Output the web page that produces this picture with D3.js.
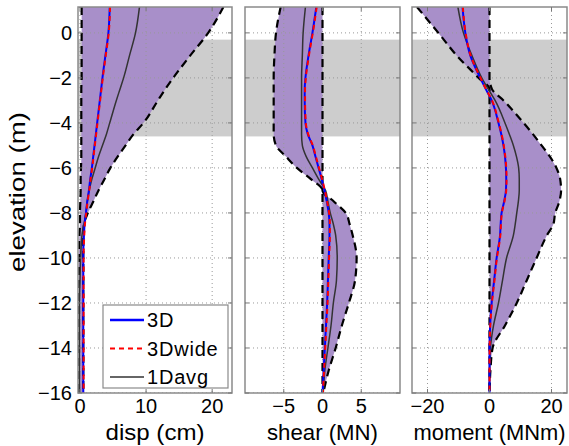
<!DOCTYPE html>
<html>
<head>
  <script src="https://d3js.org/d3.v7.min.js"></script>
  <style>
    body { margin: 0; background: #fff; }
    text { font-family: "Liberation Sans", Arial, sans-serif; fill: #000; }
  </style>
</head>
<body>
  <svg id="chart"></svg>

  <script>
    // Data
    const elev = [1.15, 0, -1, -2, -2.5, -3, -4, -4.5, -5, -5.5, -6, -6.5, -7, -7.5, -8, -8.5, -9, -10, -11, -12, -13, -14, -15, -16];

    const dispMin    = [0.25, 0.25, 0.25, 0.25, 0.2, 0.2, 0.2, 0.2, 0.2, 0.2, 0.15, 0.1, 0.1, 0.05, 0, 0, -0.1, -0.15, -0.15, -0.15, -0.15, -0.15, -0.15, -0.15];
    const dispMax    = [21.7, 19.4, 16.7, 14.1, 12.9, 11.8, 9.6, 8.1, 6.9, 5.7, 4.6, 3.7, 2.8, 2.0, 1.2, 0.6, 0.5, 0.5, 0.5, 0.5, 0.5, 0.5, 0.5, 0.5];
    const disp3D     = [4.5, 4.3, 3.85, 3.4, 3.2, 3.0, 2.6, 2.4, 2.2, 2.0, 1.8, 1.55, 1.35, 1.1, 0.9, 0.7, 0.6, 0.5, 0.5, 0.5, 0.5, 0.5, 0.5, 0.5];
    const disp3Dwide = [4.55, 4.35, 3.9, 3.45, 3.25, 3.05, 2.65, 2.45, 2.25, 2.05, 1.85, 1.6, 1.4, 1.15, 0.95, 0.75, 0.65, 0.55, 0.55, 0.55, 0.55, 0.55, 0.55, 0.55];
    const disp1D     = [9.0, 8.4, 7.5, 6.6, 6.05, 5.5, 4.5, 4.0, 3.4, 2.8, 2.3, 1.8, 1.4, 1.1, 0.9, 0.6, 0.3, 0.1, 0.0, -0.1, -0.1, -0.1, -0.1, -0.1];

    const shearMin    = [-5.4, -6.0, -6.2, -6.3, -6.3, -6.3, -6.3, -6.3, -6.0, -4.7, -3.3, -1.5, 0, 0, 0, 0, 0, 0, 0, 0, 0, 0, 0, 0];
    const shearMax    = [0, 0, 0, 0, 0, 0, 0, 0, 0, 0, 0, 0, 0, 1.5, 3.0, 3.5, 3.9, 4.4, 4.2, 3.4, 2.5, 1.7, 0.8, 0.1];
    const shear3D     = [-0.8, -1.3, -1.8, -2.2, -2.3, -2.3, -2.2, -1.9, -1.3, -0.9, -0.5, -0.1, 0.25, 0.55, 0.8, 0.9, 0.9, 0.8, 0.7, 0.6, 0.45, 0.3, 0.15, 0];
    const shear3Dwide = [-0.75, -1.25, -1.75, -2.15, -2.25, -2.25, -2.15, -1.85, -1.25, -0.85, -0.45, -0.05, 0.3, 0.6, 0.85, 0.95, 0.95, 0.85, 0.75, 0.65, 0.5, 0.35, 0.2, 0.05];
    const shear1D     = [-2.2, -2.5, -2.6, -2.7, -2.7, -2.7, -2.7, -2.7, -2.6, -2.1, -1.3, -0.5, 0.4, 0.7, 1.0, 1.4, 1.7, 1.9, 1.8, 1.4, 1.1, 0.7, 0.3, 0.1];

    const momMin    = [-23.4, -16.5, -10.6, -3.5, 0, 0, 0, 0, 0, 0, 0, 0, 0, 0, 0, 0, 0, 0, 0, 0, 0, 0, 0, 0];
    const momMax    = [0, 0, 0, 0, 0.8, 4.5, 11, 14, 16.8, 19.5, 21.6, 22.8, 23.1, 22.5, 21.2, 20.6, 18.5, 15.2, 12, 8.8, 5, 1, 0.3, 0];
    const mom3D     = [-8.7, -7.8, -6.2, -3.0, -1.2, 0.7, 2.9, 3.8, 4.5, 5.0, 5.3, 5.4, 5.3, 4.7, 3.9, 3.6, 3.4, 2.3, 1.5, 0.7, 0.2, 0, 0, 0];
    const mom3Dwide = [-8.6, -7.7, -6.1, -2.9, -1.1, 0.8, 3.0, 3.9, 4.6, 5.1, 5.4, 5.5, 5.4, 4.8, 4.0, 3.7, 3.5, 2.4, 1.6, 0.8, 0.25, 0.05, 0, 0];
    const mom1D     = [-10.2, -8.4, -5.7, -2.5, -0.4, 1.8, 5.0, 6.4, 7.7, 8.7, 9.4, 9.6, 9.6, 9.3, 8.8, 8.3, 7.7, 5.5, 4.2, 2.9, 1.3, 0.3, 0, 0];

    const yTicks = [0, -2, -4, -6, -8, -10, -12, -14, -16];
    const band = [-4.6, -0.3];   // grey elevation band
    const legendLabels = ["3D", "3Dwide", "1Davg"];

    const W = 569, H = 446;
    const plotTop = 7, plotBottom = 393;

    const svg = d3.select("#chart").attr("width", W).attr("height", H);

    const y = d3.scaleLinear().domain([-16, 1.15]).range([plotBottom, plotTop]);

    const panels = [
      { left: 78,  right: 232, domain: [-0.3, 23], ticks: [0, 10, 20],  label: "disp (cm)",    labelLen: 99,
        min: dispMin, max: dispMax, s3D: disp3D, s3Dw: disp3Dwide, s1D: disp1D },
      { left: 245, right: 400, domain: [-10, 10],  ticks: [-5, 0, 5],   label: "shear (MN)",   labelLen: 111,
        min: shearMin, max: shearMax, s3D: shear3D, s3Dw: shear3Dwide, s1D: shear1D },
      { left: 412, right: 567, domain: [-25, 25],  ticks: [-20, 0, 20], label: "moment (MNm)", labelLen: 152,
        min: momMin, max: momMax, s3D: mom3D, s3Dw: mom3Dwide, s1D: mom1D }
    ];

    const fmt = d => (d < 0 ? "\u2212" + Math.abs(d) : String(d));

    panels.forEach((p, k) => {
      const x = d3.scaleLinear().domain(p.domain).range([p.left, p.right]);
      const g = svg.append("g");

      g.append("clipPath").attr("id", "clip" + k)
        .append("rect").attr("x", p.left).attr("y", plotTop)
        .attr("width", p.right - p.left).attr("height", plotBottom - plotTop);

      const plot = g.append("g").attr("clip-path", `url(#clip${k})`);

      // grey band
      plot.append("rect")
        .attr("x", p.left).attr("width", p.right - p.left)
        .attr("y", y(band[1])).attr("height", y(band[0]) - y(band[1]))
        .attr("fill", "#cdcdcd");

      // purple envelope
      const area = d3.area()
        .y((d, i) => y(elev[i]))
        .x0((d, i) => x(p.min[i]))
        .x1((d, i) => x(p.max[i]))
        .curve(d3.curveMonotoneY);
      plot.append("path").datum(elev).attr("d", area)
        .attr("fill", "#a88fc9");

      // grid
      plot.selectAll(".gx").data(p.ticks).enter().append("line")
        .attr("x1", d => x(d)).attr("x2", d => x(d))
        .attr("y1", plotTop).attr("y2", plotBottom)
        .attr("stroke", "#999").attr("stroke-width", 1).attr("stroke-dasharray", "1,3");
      plot.selectAll(".gy").data(yTicks).enter().append("line")
        .attr("x1", p.left).attr("x2", p.right)
        .attr("y1", d => y(d)).attr("y2", d => y(d))
        .attr("stroke", "#999").attr("stroke-width", 1).attr("stroke-dasharray", "1,3");

      const line = vals => d3.line()
        .x((d, i) => x(vals[i]))
        .y((d, i) => y(elev[i]))
        .curve(d3.curveMonotoneY)(elev);

      // envelope outlines
      [p.min, p.max].forEach(v => {
        plot.append("path").attr("d", line(v))
          .attr("fill", "none").attr("stroke", "#000")
          .attr("stroke-width", 2.2).attr("stroke-dasharray", "8,5");
      });

      // series
      plot.append("path").attr("d", line(p.s1D))
        .attr("fill", "none").attr("stroke", "#333").attr("stroke-width", 1.5);
      plot.append("path").attr("d", line(p.s3D))
        .attr("fill", "none").attr("stroke", "#0000ff").attr("stroke-width", 2);
      plot.append("path").attr("d", line(p.s3Dw))
        .attr("fill", "none").attr("stroke", "#ff0000").attr("stroke-width", 2)
        .attr("stroke-dasharray", "5,4");

      // box
      g.append("rect")
        .attr("x", p.left).attr("y", plotTop)
        .attr("width", p.right - p.left).attr("height", plotBottom - plotTop)
        .attr("fill", "none").attr("stroke", "#8a8a8a").attr("stroke-width", 1.5);

      // tick marks (inside, all four sides)
      p.ticks.forEach(t => {
        g.append("line").attr("x1", x(t)).attr("x2", x(t)).attr("y1", plotBottom).attr("y2", plotBottom - 4)
          .attr("stroke", "#777");
        g.append("line").attr("x1", x(t)).attr("x2", x(t)).attr("y1", plotTop).attr("y2", plotTop + 4)
          .attr("stroke", "#777");
      });
      yTicks.forEach(t => {
        g.append("line").attr("x1", p.left).attr("x2", p.left + 4).attr("y1", y(t)).attr("y2", y(t))
          .attr("stroke", "#777");
        g.append("line").attr("x1", p.right).attr("x2", p.right - 4).attr("y1", y(t)).attr("y2", y(t))
          .attr("stroke", "#777");
      });

      // x tick labels
      g.selectAll(".xl").data(p.ticks).enter().append("text")
        .attr("x", d => x(d)).attr("y", 413)
        .attr("text-anchor", "middle")
        .style("font-size", "20px")
        .text(fmt);

      // x axis label
      g.append("text")
        .attr("x", (p.left + p.right) / 2).attr("y", 440)
        .attr("text-anchor", "middle")
        .attr("textLength", p.labelLen).attr("lengthAdjust", "spacingAndGlyphs")
        .style("font-size", "22px")
        .text(p.label);

      if (k === 0) {
        g.selectAll(".yl").data(yTicks).enter().append("text")
          .attr("x", 72).attr("y", d => y(d) + 7)
          .attr("text-anchor", "end")
          .style("font-size", "20px")
          .text(fmt);

        g.append("text")
          .attr("transform", "translate(25,192) rotate(-90)")
          .attr("text-anchor", "middle")
          .attr("textLength", 160).attr("lengthAdjust", "spacingAndGlyphs")
          .style("font-size", "22px")
          .text("elevation (m)");
      }
    });

    // legend
    const leg = svg.append("g");
    leg.append("rect")
      .attr("x", 103).attr("y", 305).attr("width", 125).attr("height", 83)
      .attr("fill", "#fff").attr("stroke", "#8a8a8a").attr("stroke-width", 1.2);

    const legStyles = [
      { color: "#0000ff", width: 2.5, dash: null },
      { color: "#ff0000", width: 2,   dash: "5,4" },
      { color: "#333",    width: 1.5, dash: null }
    ];
    legendLabels.forEach((name, i) => {
      const ly = 320 + i * 28.5;
      const s = legStyles[i];
      leg.append("line")
        .attr("x1", 110).attr("x2", 144).attr("y1", ly).attr("y2", ly)
        .attr("stroke", s.color).attr("stroke-width", s.width)
        .attr("stroke-dasharray", s.dash);
      leg.append("text")
        .attr("x", 147).attr("y", ly + 7)
        .style("font-size", "20px")
        .style("letter-spacing", "0.8px")
        .text(name);
    });
  </script>
</body>
</html>
